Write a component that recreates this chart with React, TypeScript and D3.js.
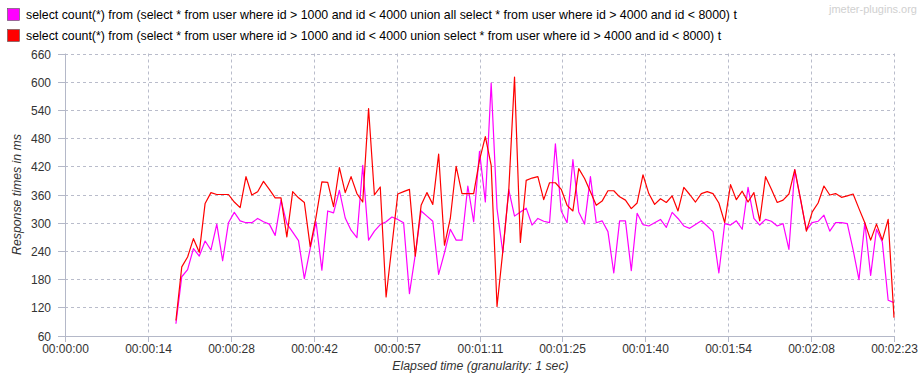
import React from "react";
import * as d3 from "d3";

const W = 923;
const H = 381;

const seriesNames = [
  "select count(*) from (select * from user where id > 1000 and id < 4000 union all select * from user where id > 4000 and id < 8000) t",
  "select count(*) from (select * from user where id > 1000 and id < 4000 union select * from user where id > 4000 and id < 8000) t",
];
const seriesColors = ["#ff00ff", "#ff0000"];

// elapsed seconds of the first sample; one sample per second
const firstSecond = 19;

const unionAllValues = [
  85, 185, 200, 245, 229, 261, 242, 297, 219, 300, 322, 304, 300, 300, 309, 302, 297, 273, 348, 298,
  280, 262, 181, 245, 302, 199, 325, 321, 369, 310, 284, 268, 422, 263, 282, 296, 302, 312, 307, 300,
  149, 232, 325, 314, 303, 190, 236, 286, 263, 263, 378, 302, 452, 344, 597, 330, 236, 371, 314, 323,
  331, 295, 309, 303, 300, 468, 325, 300, 434, 323, 297, 398, 300, 304, 281, 193, 304, 304, 198, 320,
  296, 293, 300, 307, 290, 322, 309, 293, 288, 296, 304, 293, 281, 193, 298, 295, 304, 286, 375, 309,
  295, 307, 303, 293, 298, 243, 413, 348, 284, 300, 303, 316, 282, 300, 300, 298, 242, 179, 300, 188,
  286, 259, 135, 130,
];

const unionValues = [
  92, 206, 227, 266, 237, 341, 364, 360, 360, 360, 344, 332, 398, 359, 366, 388, 371, 353, 353, 270,
  366, 353, 343, 249, 312, 387, 386, 334, 417, 364, 398, 362, 344, 543, 359, 376, 142, 251, 361, 366,
  371, 229, 337, 364, 339, 446, 252, 309, 420, 362, 362, 362, 433, 483, 422, 122, 240, 366, 610, 258,
  390, 395, 398, 349, 385, 385, 371, 337, 325, 415, 394, 366, 337, 346, 368, 368, 355, 348, 330, 342,
  402, 362, 339, 351, 343, 357, 325, 375, 360, 344, 362, 366, 362, 342, 300, 381, 349, 367, 344, 364,
  304, 398, 371, 343, 348, 361, 413, 350, 282, 323, 342, 378, 359, 362, 354, 357, 361, 330, 300, 263,
  297, 263, 307, 98,
];

const yTicks = [60, 120, 180, 240, 300, 360, 420, 480, 540, 600, 660];
const xTickLabels = [
  "00:00:00", "00:00:14", "00:00:28", "00:00:42", "00:00:57", "00:01:11",
  "00:01:25", "00:01:40", "00:01:54", "00:02:08", "00:02:23",
];

const FONT = "'Liberation Sans', Arial, sans-serif";
const GRID = "#b9bccb";
const AXIS = "#b4b8c8";
const TEXT = "#333333";

export default function App() {
  const left = 65;
  const right = 894;
  const top = 53.5;
  const bottom = 335.5;

  const xMax = 142;
  const x = d3.scaleLinear().domain([0, xMax]).range([left, right]);
  const y = d3.scaleLinear().domain([60, 660]).range([bottom, top]);

  const line = d3
    .line<number>()
    .x((_, i) => x(firstSecond + i))
    .y((d) => y(d));

  const xTickPos = xTickLabels.map((_, i) => Math.round(x((i * xMax) / 10)) + 0.5);
  const crispY = (v: number) => Math.round(y(v)) + 0.5;

  const series = [unionAllValues, unionValues];

  return (
    <div style={{ position: "absolute", left: 0, top: 0, background: "#fff" }}>
      <svg width={W} height={H} style={{ display: "block", fontFamily: FONT }}>
        <rect x={0} y={0} width={W} height={H} fill="#ffffff" />

        {/* watermark */}
        <text x={917} y={13} textAnchor="end" fontSize={11} fill="#d0d0d0">
          jmeter-plugins.org
        </text>

        {/* legend */}
        {seriesNames.map((name, i) => (
          <g key={name}>
            <rect
              x={7.5}
              y={8.5 + i * 21}
              width={12}
              height={12}
              fill={seriesColors[i]}
              stroke="#555"
              strokeWidth={0.6}
            />
            <text x={26} y={19 + i * 21} fontSize={12.35} fill="#000">
              {name}
            </text>
          </g>
        ))}

        {/* horizontal grid */}
        {yTicks.map((v) => (
          <g key={"y" + v}>
            {v !== 60 && (
              <line
                x1={left}
                x2={right}
                y1={crispY(v)}
                y2={crispY(v)}
                stroke={GRID}
                strokeDasharray="3,3"
              />
            )}
            <line x1={58} x2={left} y1={crispY(v)} y2={crispY(v)} stroke={AXIS} />
            <text
              x={51}
              y={crispY(v) + 4.5}
              textAnchor="end"
              fontSize={12}
              fill={TEXT}
            >
              {v}
            </text>
          </g>
        ))}

        {/* vertical grid */}
        {xTickLabels.map((lab, i) => (
          <g key={"x" + i}>
            {i !== 0 && (
              <line
                x1={xTickPos[i]}
                x2={xTickPos[i]}
                y1={top}
                y2={bottom}
                stroke={GRID}
                strokeDasharray="3,3"
              />
            )}
            <line
              x1={xTickPos[i]}
              x2={xTickPos[i]}
              y1={Math.round(bottom) + 0.5}
              y2={Math.round(bottom) + 6}
              stroke={AXIS}
            />
            <text
              x={xTickPos[i]}
              y={353}
              textAnchor="middle"
              fontSize={12}
              fill={TEXT}
            >
              {lab}
            </text>
          </g>
        ))}

        {/* axes */}
        <line x1={left + 0.5} x2={left + 0.5} y1={top} y2={Math.round(bottom) + 0.5} stroke={AXIS} />
        <line x1={left} x2={right + 1} y1={Math.round(bottom) + 0.5} y2={Math.round(bottom) + 0.5} stroke={AXIS} />

        {/* axis titles */}
        <text
          x={(left + right) / 2 + 1}
          y={370}
          textAnchor="middle"
          fontSize={12.3}
          fontStyle="italic"
          fill={TEXT}
        >
          Elapsed time (granularity: 1 sec)
        </text>
        <text
          transform={`translate(21, ${(top + bottom) / 2}) rotate(-90)`}
          textAnchor="middle"
          fontSize={12.3}
          fontStyle="italic"
          fill={TEXT}
        >
          Response times in ms
        </text>

        {/* series lines */}
        {series.map((vals, i) => (
          <path
            key={"s" + i}
            d={line(vals) || ""}
            fill="none"
            stroke={seriesColors[i]}
            strokeWidth={1.2}
            strokeLinejoin="round"
          />
        ))}
      </svg>
    </div>
  );
}
